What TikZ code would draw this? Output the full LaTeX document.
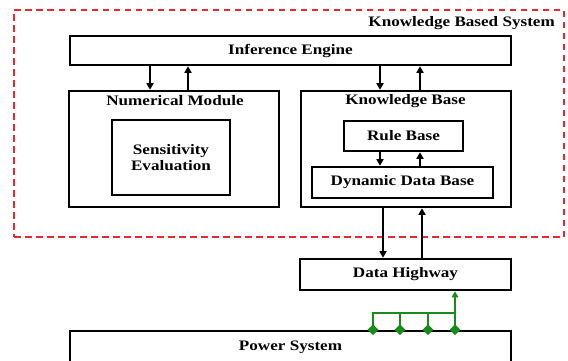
\documentclass[tikz,border=0pt]{standalone}
\usepackage{fontspec}
\setmainfont{Liberation Serif}[FakeStretch=1.18]
\usetikzlibrary{arrows.meta,shapes.geometric}
\definecolor{kbsred}{RGB}{232,40,48}
\definecolor{busgreen}{RGB}{24,140,24}
\newcommand{\lblfont}{\fontsize{14.5}{16}\selectfont\bfseries}
\begin{document}
\begin{tikzpicture}[x=1pt,y=-1pt,
  blkbox/.style={draw=black,line width=2.6pt,inner sep=0pt,font=\lblfont,align=center},
  lbl/.style={inner sep=0pt,font=\lblfont},
  arr/.style={line width=2.1pt,-{Triangle[length=6.5pt,width=7pt]}},
  grn/.style={draw=busgreen,line width=2.2pt},
  dia/.style={diamond,fill=busgreen,minimum size=11pt,inner sep=0pt}]
\useasboundingbox (0,0) rectangle (568,360);
\clip (0,0) rectangle (568,360);
\fill[white] (0,0) rectangle (568,360);
% Knowledge based system region
\node[draw=kbsred,line width=2.4pt,dash pattern=on 6.5pt off 4.5pt,minimum width=550pt,minimum height=227pt,inner sep=0pt] (kbs) at (289,123.5) {};
\node[lbl,anchor=east] (kbslbl) at (555,23) {Knowledge Based System};
% boxes
\node[blkbox,minimum width=441pt,minimum height=29pt] (ie) at (290.5,50.5) {Inference Engine};
\node[blkbox,minimum width=210pt,minimum height=116pt] (nm) at (174,149) {};
\node[lbl] (nmlbl) at (175,101) {Numerical Module};
\node[blkbox,minimum width=118pt,minimum height=75pt] (se) at (171,157.5) {Sensitivity\\Evaluation};
\node[blkbox,minimum width=210pt,minimum height=116pt] (kb) at (406,149) {};
\node[lbl] (kblbl) at (405.5,101) {Knowledge Base};
\node[blkbox,minimum width=119pt,minimum height=30pt] (rb) at (403.5,136) {Rule Base};
\node[blkbox,minimum width=181pt,minimum height=31pt] (ddb) at (402.5,182.5) {Dynamic Data Base};
\node[blkbox,minimum width=211pt,minimum height=31pt] (dh) at (405.5,274.5) {Data Highway};
\node[blkbox,minimum width=441pt,minimum height=32pt] (ps) at (290.5,347) {Power System};
% arrow columns
\coordinate (xa) at (150,0);
\coordinate (xb) at (188,0);
\coordinate (xc) at (380,0);
\coordinate (xd) at (420,0);
\coordinate (xe) at (383,0);
\coordinate (xf) at (422,0);
\draw[arr] (ie.south -| xa) -- (nm.north -| xa);
\draw[arr] (nm.north -| xb) -- (ie.south -| xb);
\draw[arr] (ie.south -| xc) -- (kb.north -| xc);
\draw[arr] (kb.north -| xd) -- (ie.south -| xd);
\draw[arr] (rb.south -| xc) -- (ddb.north -| xc);
\draw[arr] (ddb.north -| xd) -- (rb.south -| xd);
\draw[arr] (kb.south -| xe) -- (dh.north -| xe);
\draw[arr] (dh.north -| xf) -- (kb.south -| xf);
% green bus
\coordinate (g1) at (373,0);
\coordinate (g2) at (400,0);
\coordinate (g3) at (428,0);
\coordinate (g4) at (455,0);
\coordinate (bus) at (0,313);
\draw[grn] (ps.north -| g1) |- (bus -| g4);
\draw[grn] (ps.north -| g2) -- (bus -| g2);
\draw[grn] (ps.north -| g3) -- (bus -| g3);
\draw[grn,-{Triangle[length=6pt,width=6.5pt]}] (ps.north -| g4) -- (dh.south -| g4);
\node[dia] (d1) at (ps.north -| g1) {};
\node[dia] (d2) at (ps.north -| g2) {};
\node[dia] (d3) at (ps.north -| g3) {};
\node[dia] (d4) at (ps.north -| g4) {};
\end{tikzpicture}
\end{document}
